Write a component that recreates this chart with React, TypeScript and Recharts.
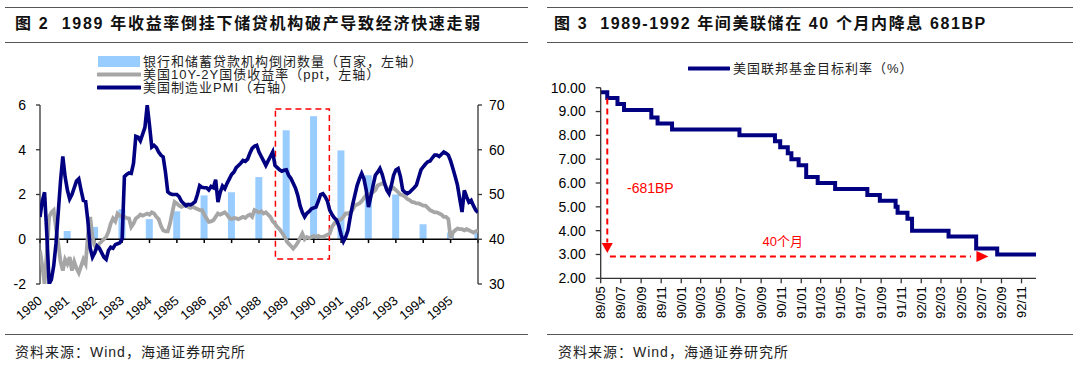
import React from 'react';
import {
  ComposedChart,
  LineChart,
  Line,
  Bar,
  XAxis,
  YAxis,
  ReferenceLine,
  ReferenceArea,
  ReferenceDot,
} from 'recharts';

const F = '"Liberation Sans", Arial, "Noto Sans CJK SC", sans-serif';
const NAVY = '#000080';
const GRAY = '#A6A6A6';
const BLUE_BAR = '#99CCFF';
const RED = '#FF0000';

// ---------- Left chart data ----------
const years = [1980, 1981, 1982, 1983, 1984, 1985, 1986, 1987, 1988, 1989, 1990, 1991, 1992, 1993, 1994, 1995, 1996];
const yearLabels = ['1980', '1981', '1982', '1983', '1984', '1985', '1986', '1987', '1988', '1989', '1990', '1991', '1992', '1993', '1994', '1995'];
// 银行和储蓄贷款机构倒闭数量（百家）
const closures = [null, 0.37, 0.55, 1.34, 0.9, 1.25, 1.96, 2.1, 2.78, 4.87, 5.5, 3.97, 2.86, 2.0, 0.67, 0.3, 0.27];

// 美国10Y-2Y国债收益率 (ppt), monthly 1980/01 .. 1996/01
const spread = [
  -0.5, -1.2, -2.0, -0.6, 1.0, 1.2, 1.3, 0.5, -0.2, -1.0, -1.4, -0.9,
  -1.1, -0.8, -1.4, -1.0, -1.3, -1.5, -1.2, -0.9, -1.1, 0.2, 1.0, 0.1,
  -0.3, -0.4, -0.2, -0.1, 0.0, 0.1, 0.33, 0.7, 0.93, 0.8, 1.15, 1.05,
  1.0, 1.0, 0.95, 0.93, 0.55, 0.7, 0.93, 1.0, 1.1, 1.05, 1.1, 1.15,
  1.1, 1.2, 1.15, 1.0, 0.9, 0.6, 0.4, 0.35, 0.35, 0.7, 1.2, 1.67,
  1.6, 1.5, 1.45, 1.5, 1.55, 1.45, 1.4, 1.45, 1.4, 1.35, 1.3, 1.3,
  1.1, 0.93, 0.78, 0.8, 0.85, 1.0, 1.15, 1.1, 1.15, 1.2, 1.1, 0.95,
  0.9, 0.95, 0.93, 0.9, 0.95, 1.0, 0.95, 1.05, 1.1, 1.0, 1.3, 1.25,
  1.2, 1.25, 1.15, 1.2, 1.1, 1.0, 0.8, 0.7, 0.55, 0.45, 0.3, 0.15,
  -0.05, -0.2, -0.3, -0.42, -0.3, -0.15, 0.05, 0.25, 0.0, 0.1, 0.05, 0.1,
  0.15, 0.1, 0.15, 0.1, 0.1, 0.15, 0.2, 0.25, 0.55, 0.7, 0.85, 0.85,
  0.9, 1.0, 1.15, 1.15, 1.2, 1.3, 1.5, 1.55, 1.6, 1.7, 1.85, 1.97,
  2.0, 2.05, 2.1, 2.2, 2.4, 2.45, 2.5, 2.45, 2.3, 2.2, 2.25, 2.3,
  2.2, 2.1, 2.0, 1.97, 1.9, 1.8, 1.75, 1.67, 1.65, 1.6, 1.6, 1.55,
  1.5, 1.5, 1.4, 1.3, 1.25, 1.2, 1.2, 1.15, 1.1, 1.0, 1.0, 0.9,
  0.03, 0.3, 0.4, 0.48, 0.45, 0.45, 0.4, 0.45, 0.4, 0.35, 0.3, 0.35,
  0.4,
];

// 美国制造业PMI, monthly 1980/01 .. 1996/01
const pmi = [
  45, 48.5, 50.5, 41, 30, 31, 34, 39, 46, 53, 58.5, 54,
  51, 49, 50, 51.5, 53, 53.5, 51, 48.7, 48.5, 44, 38, 36,
  37, 38.5, 38, 37, 36, 35.5, 37.5, 38.2, 38, 38.8, 39, 39.2,
  40, 54, 54.5, 54.8, 54.7, 57, 63, 62.8, 62, 63.5, 65, 70,
  65.5, 60.6, 61, 60.5, 59.5, 58.8, 58.4, 55, 50.6, 50.2, 50, 50,
  50, 49.5, 48.5, 48, 47.5, 47.8, 47.7, 48, 48.4, 50, 52, 51.6,
  51.5, 51.5, 51, 51.8, 51.5, 53.3, 48.3, 50.5, 51.9, 51.3, 52.5, 53.5,
  54.5, 55, 56, 56.5, 57, 57.6, 57.4, 57.9, 59.2, 60.3, 60.8, 61,
  59.5, 58.5, 57.5, 56.5, 57.5, 58.5, 59.5, 56.5, 56, 55.5, 55.2, 55.4,
  55.5, 54.3, 53.6, 52.5, 51.4, 49.8, 47.5, 46, 45, 45.8, 46.2, 46.8,
  47, 47.2, 48.5, 50, 50.2, 49.5, 48.5, 46.5, 45.5, 44.8, 44.3, 43,
  41, 39.5, 40.5, 42, 45, 47.6, 49.8, 52, 53.5, 54.7, 53.5, 51,
  47.2, 49.5, 52, 54.3, 55, 55.8, 54.5, 52.6, 51, 50.2, 52, 54.3,
  55.5, 55.8, 54, 51, 50.5, 50.2, 50.5, 51, 51.5, 52.1, 53.8, 55.5,
  56.2, 56.8, 57.3, 57.5, 58.2, 58.8, 58.8, 58.5, 59, 59.5, 59.2, 58.8,
  57.5, 55.8, 54, 52.1, 49, 46.1, 50.9, 49.5, 48.3, 48.7, 47.5, 46.5,
  46,
];

const leftLegend = [
  { kind: 'rect', color: BLUE_BAR, label: '银行和储蓄贷款机构倒闭数量（百家，左轴）' },
  { kind: 'line', color: GRAY, label: '美国10Y-2Y国债收益率（ppt，左轴）' },
  { kind: 'line', color: NAVY, label: '美国制造业PMI（右轴）' },
];

// ---------- Right chart data ----------
const rateDates = [
  '1989-05-17', '1989-06-06', '1989-07-07', '1989-07-27', '1989-10-18', '1989-11-06', '1989-12-20',
  '1990-07-13', '1990-10-29', '1990-11-14', '1990-12-07', '1990-12-18',
  '1991-01-09', '1991-02-01', '1991-03-08', '1991-04-30', '1991-08-06', '1991-09-13', '1991-10-31',
  '1991-11-06', '1991-12-06', '1991-12-20',
  '1992-04-09', '1992-07-02', '1992-09-04', '1992-12-31',
];
const rates = [
  9.8125, 9.5625, 9.3125, 9.0625, 8.75, 8.5, 8.25,
  8.0, 7.75, 7.5, 7.25, 7.0,
  6.75, 6.25, 6.0, 5.75, 5.5, 5.25, 5.0,
  4.75, 4.5, 4.0,
  3.75, 3.25, 3.0, 3.0,
];
const rateTickLabels = [
  '89/05', '89/07', '89/09', '89/11', '90/01', '90/03', '90/05', '90/07', '90/09', '90/11',
  '91/01', '91/03', '91/05', '91/07', '91/09', '91/11', '92/01', '92/03', '92/05', '92/07', '92/09', '92/11',
];
const rateYTicks = [2, 3, 4, 5, 6, 7, 8, 9, 10];

// annotation anchors (data space)
const vArrow = { date: '1989-06-06', top: 9.55, bottom: 3.5, head: 3.27 };
const hArrow = { from: '1989-06-14', to: '1992-06-16', head: '1992-07-21', y: 2.92 };
const bpLabel = { date: '1989-10-15', y: 5.78, text: '-681BP' };
const monthLabel = { date: '1990-11-22', y: 3.54, text: '40个月' };

const YearTick = (props: any) => {
  const { x, y, index } = props;
  const ax = x + 3;
  const ay = y + 18;
  return (
    <text x={ax} y={ay} transform={`rotate(-40 ${ax} ${ay})`} textAnchor="end" fontSize={13} fontFamily={F} fill="#000">
      {yearLabels[index]}
    </text>
  );
};

const MonthTick = (props: any) => {
  const { x, y, index } = props;
  const ax = x + 4.5;
  const ay = y;
  return (
    <text x={ax} y={ay} transform={`rotate(-90 ${ax} ${ay})`} textAnchor="end" fontSize={13} fontFamily={F} fill="#000">
      {rateTickLabels[index]}
    </text>
  );
};

const Rule = ({ x1, x2, y }: { x1: number; x2: number; y: number }) => (
  <div style={{ position: 'absolute', left: x1, top: y, width: x2 - x1, height: 0, borderTop: '1.5px solid #555' }} />
);

const textStyle = (left: number, top: number, size: number, extra: any = {}) => ({
  position: 'absolute' as const,
  left,
  top,
  fontSize: size,
  fontFamily: F,
  color: '#000',
  whiteSpace: 'nowrap' as const,
  lineHeight: 1,
  ...extra,
});

export default function App() {
  const barData = years.map((y, i) => ({ year: y, closures: closures[i] }));
  const lineData = pmi.map((v, i) => ({ t: 1980 + i / 12, pmi: v, spread: spread[i] }));
  const yearTicks = years.slice(0, yearLabels.length);

  const rateData = rateDates.map((d, i) => ({ t: Date.parse(d), rate: rates[i] }));
  const rateTicks = rateTickLabels.map((l) => Date.UTC(1900 + Number(l.slice(0, 2)), Number(l.slice(3)) - 1, 17));
  const rateDomain = [Date.parse(rateDates[0]), Date.parse(rateDates[rateDates.length - 1])];
  const d = (s: string) => Date.parse(s);

  const axisStroke = { stroke: '#333', strokeWidth: 1.3 };

  return (
    <div style={{ position: 'absolute', left: 0, top: 0, width: 1080, height: 365, background: '#fff', overflow: 'hidden' }}>
      {/* rules */}
      <Rule x1={5} x2={528} y={7} />
      <Rule x1={5} x2={528} y={42} />
      <Rule x1={5} x2={528} y={334} />
      <Rule x1={547} x2={1073} y={7} />
      <Rule x1={547} x2={1073} y={42} />
      <Rule x1={547} x2={1073} y={334} />

      {/* titles */}
      <div style={textStyle(15, 16, 16, { fontWeight: 700, letterSpacing: 1.7, color: '#111' })}>
        图 2&nbsp; 1989 年收益率倒挂下储贷机构破产导致经济快速走弱
      </div>
      <div style={textStyle(554, 16, 16, { fontWeight: 700, letterSpacing: 1.6, color: '#111' })}>
        图 3&nbsp; 1989-1992 年间美联储在 40 个月内降息 681BP
      </div>

      {/* sources */}
      <div style={textStyle(15, 345, 14, { letterSpacing: 1, color: '#222' })}>资料来源：Wind，海通证券研究所</div>
      <div style={textStyle(558, 345, 14, { letterSpacing: 1, color: '#222' })}>资料来源：Wind，海通证券研究所</div>

      {/* left base chart: bars + axes */}
      <div style={{ position: 'absolute', left: 0, top: 0 }}>
        <ComposedChart width={540} height={365} data={barData} margin={{ top: 105, right: 32, bottom: 41, left: 10 }}>
          <XAxis
            type="number"
            dataKey="year"
            domain={[1980, 1996]}
            ticks={yearTicks}
            interval={0}
            axisLine={false}
            tickLine={false}
            tickSize={0}
            tickMargin={0}
            height={40}
            tick={YearTick}
            allowDataOverflow
          />
          <YAxis
            yAxisId="l"
            domain={[-2, 6]}
            ticks={[-2, 0, 2, 4, 6]}
            interval={0}
            width={30}
            axisLine={axisStroke}
            tickLine={axisStroke}
            tickSize={4}
            tickMargin={10}
            tick={{ fontSize: 14, fill: '#000', fontFamily: F }}
            allowDataOverflow
          />
          <YAxis
            yAxisId="r"
            orientation="right"
            domain={[30, 70]}
            ticks={[30, 40, 50, 60, 70]}
            interval={0}
            width={30}
            axisLine={axisStroke}
            tickLine={axisStroke}
            tickSize={4}
            tickMargin={7}
            tick={{ fontSize: 14, fill: '#000', fontFamily: F }}
            allowDataOverflow
          />
          <Bar yAxisId="l" dataKey="closures" fill={BLUE_BAR} barSize={7} isAnimationActive={false} />
          <ReferenceLine yAxisId="l" y={0} stroke="#000" strokeWidth={1.5} />
          {years.map((y) => (
            <ReferenceLine
              key={y}
              yAxisId="l"
              segment={[{ x: y, y: 0 }, { x: y, y: -0.17 }]}
              stroke="#000"
              strokeWidth={1.5}
            />
          ))}
        </ComposedChart>
      </div>

      {/* left overlay chart: lines */}
      <div style={{ position: 'absolute', left: 0, top: 0 }}>
        <LineChart width={540} height={365} data={lineData} margin={{ top: 105, right: 62, bottom: 81, left: 40 }}>
          <XAxis type="number" dataKey="t" domain={[1980, 1996]} hide allowDataOverflow />
          <YAxis yAxisId="l" domain={[-2, 6]} hide allowDataOverflow />
          <YAxis yAxisId="r" domain={[30, 70]} hide allowDataOverflow />
          <Line yAxisId="l" type="linear" dataKey="spread" stroke={GRAY} strokeWidth={3.8} dot={false} isAnimationActive={false} />
          <Line yAxisId="r" type="linear" dataKey="pmi" stroke={NAVY} strokeWidth={3.6} dot={false} isAnimationActive={false} />
          <ReferenceArea
            yAxisId="l"
            x1={1988.6}
            x2={1990.57}
            y1={-0.88}
            y2={5.82}
            fill="none"
            fillOpacity={0}
            stroke={RED}
            strokeWidth={1.5}
            strokeDasharray="6 4"
            ifOverflow="visible"
          />
        </LineChart>
      </div>

      {/* left legend */}
      {leftLegend.map((it, i) => (
        <div key={i} style={{ position: 'absolute', left: 97, top: 55 + i * 13, height: 13, display: 'flex', alignItems: 'center' }}>
          <svg width={44} height={13} style={{ display: 'block' }}>
            {it.kind === 'rect' ? (
              <rect x={1} y={1} width={42} height={11} fill={it.color} />
            ) : (
              <line x1={1} x2={43} y1={6.5} y2={6.5} stroke={it.color} strokeWidth={4} strokeLinecap="round" />
            )}
          </svg>
          <span style={{ fontFamily: F, fontSize: 13, letterSpacing: 1, marginLeft: 2, color: '#222', lineHeight: 1 }}>{it.label}</span>
        </div>
      ))}

      {/* right chart */}
      <div style={{ position: 'absolute', left: 540, top: 0 }}>
        <LineChart width={540} height={365} data={rateData} margin={{ top: 87.7, right: 44, bottom: 41.7, left: 10.7 }}>
          <XAxis
            type="number"
            dataKey="t"
            domain={rateDomain}
            ticks={rateTicks}
            interval={0}
            height={45}
            axisLine={axisStroke}
            tickLine={axisStroke}
            tickSize={5}
            tickMargin={3}
            tick={MonthTick}
            allowDataOverflow
          />
          <YAxis
            domain={[2, 10]}
            ticks={rateYTicks}
            interval={0}
            width={50}
            axisLine={axisStroke}
            tickLine={axisStroke}
            tickSize={5}
            tickMargin={10}
            tickFormatter={(v: number) => v.toFixed(2)}
            tick={{ fontSize: 14, fill: '#000', fontFamily: F }}
            allowDataOverflow
          />
          <Line type="stepAfter" dataKey="rate" stroke={NAVY} strokeWidth={4} dot={false} isAnimationActive={false} />
          <ReferenceLine
            segment={[{ x: d(vArrow.date), y: vArrow.top }, { x: d(vArrow.date), y: vArrow.bottom }]}
            stroke={RED}
            strokeWidth={2}
            strokeDasharray="6 4"
          />
          <ReferenceDot
            x={d(vArrow.date)}
            y={vArrow.head}
            r={5}
            shape={(p: any) => (
              <path d={`M${p.cx - 5.5},${p.cy - 5} L${p.cx + 5.5},${p.cy - 5} L${p.cx},${p.cy + 5} Z`} fill={RED} />
            )}
          />
          <ReferenceLine
            segment={[{ x: d(hArrow.from), y: hArrow.y }, { x: d(hArrow.to), y: hArrow.y }]}
            stroke={RED}
            strokeWidth={2}
            strokeDasharray="6 4"
          />
          <ReferenceDot
            x={d(hArrow.head)}
            y={hArrow.y}
            r={5}
            shape={(p: any) => (
              <path d={`M${p.cx - 6},${p.cy - 5.5} L${p.cx - 6},${p.cy + 5.5} L${p.cx + 6},${p.cy} Z`} fill={RED} />
            )}
          />
          <ReferenceDot
            x={d(bpLabel.date)}
            y={bpLabel.y}
            r={1}
            shape={(p: any) => (
              <text x={p.cx} y={p.cy} textAnchor="middle" dominantBaseline="central" fontSize={14} fontFamily={F} fill={RED}>
                {bpLabel.text}
              </text>
            )}
          />
          <ReferenceDot
            x={d(monthLabel.date)}
            y={monthLabel.y}
            r={1}
            shape={(p: any) => (
              <text x={p.cx} y={p.cy} textAnchor="middle" dominantBaseline="central" fontSize={13} fontFamily={F} fill={RED}>
                {monthLabel.text}
              </text>
            )}
          />
        </LineChart>
      </div>

      {/* right legend */}
      <div style={{ position: 'absolute', left: 688, top: 62, height: 13, display: 'flex', alignItems: 'center' }}>
        <svg width={42} height={13} style={{ display: 'block' }}>
          <line x1={1} x2={41} y1={6.5} y2={6.5} stroke={NAVY} strokeWidth={4} strokeLinecap="round" />
        </svg>
        <span style={{ fontFamily: F, fontSize: 13, letterSpacing: 1, marginLeft: 3, color: '#222', lineHeight: 1 }}>
          美国联邦基金目标利率（%）
        </span>
      </div>
    </div>
  );
}
